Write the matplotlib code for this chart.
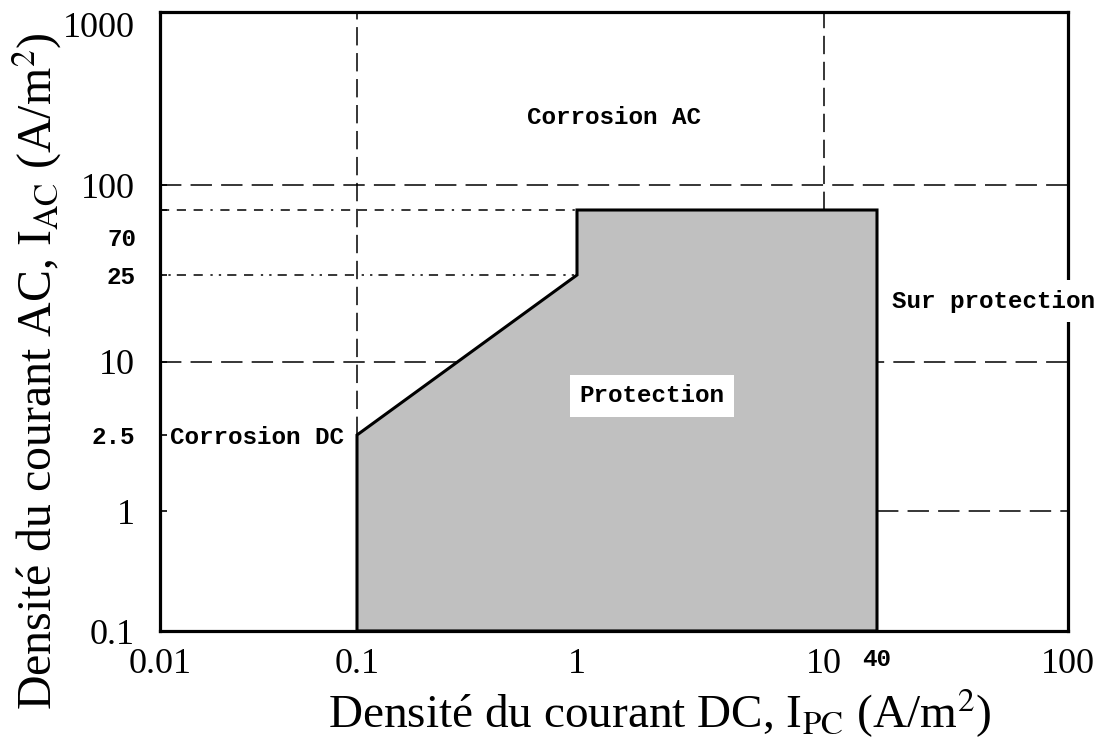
import numpy as np
import matplotlib
matplotlib.use("Agg")
import matplotlib.pyplot as plt

# ---------------- data ----------------
# contour of the protection zone (I_DC, I_AC in A/m2)
dc_edge = [0.1, 0.1, 1, 1, 40, 40]
ac_edge = [0.1, 2.5, 25, 70, 70, 0.1]

x_ticks = [0.01, 0.1, 1, 10, 40, 100]
x_tick_labels = ["0.01", "0.1", "1", "10", "40", "100"]
y_ticks = [0.1, 1, 2.5, 10, 25, 70, 100, 1000]
y_tick_labels = ["0.1", "1", "2.5", "10", "25", "", "100", "1000"]
bold_labels = ["2.5", "25", "40"]

# reference lines : (value, from, to)
h_dashed = [(100, 0.01, 100), (10, 0.01, 100), (1, 40, 100)]
v_dashed = [(0.1, 2.5, 1000), (10, 70, 1000)]
h_dashdot = [(70, 0.01, 1, (0, (6, 5, 6, 5, 6, 5, 1.5, 5))),
             (25, 0.01, 1, (0, (1.5, 4, 1.5, 4, 6, 5, 6, 5)))]

regions = [("Corrosion AC", 0.50, 0.83, False),
           ("Protection", 0.542, 0.38, True),
           ("Sur protection", 0.918, 0.533, True),
           ("Corrosion DC", 0.107, 0.313, False)]

# hand drawn diagram -> axis calibration (value -> pixel position)
x_calib_px = [160, 357, 577, 824, 877, 1068]
y_calib_px = [109, 229, 305, 378, 465, 530, 555, 728]


def calib_scale(vals, px):
    lv = np.log10(vals)
    px = np.asarray(px, float)

    def fwd(v):
        v = np.clip(np.asarray(v, float), 1e-12, None)
        return np.interp(np.log10(v), lv, px)

    def inv(p):
        return 10 ** np.interp(p, px, lv)
    return fwd, inv


plt.rcParams["font.family"] = ["Liberation Serif", "DejaVu Serif"]
plt.rcParams["mathtext.fontset"] = "stix"
mono = dict(family="Liberation Mono", weight="bold", size=17.5)

fig = plt.figure(figsize=(10.99, 7.40), dpi=100)
ax = fig.add_axes([160 / 1099, 109 / 740, 908 / 1099, 619 / 740])

ax.set_xscale("function", functions=calib_scale(x_ticks, x_calib_px))
ax.set_yscale("function", functions=calib_scale(y_ticks, y_calib_px))
ax.set_xlim(0.01, 100)
ax.set_ylim(0.1, 1000)

# grid / construction lines
for v, a, b in h_dashed:
    ax.plot([a, b], [v, v], color="black", lw=1.1, ls=(0, (14, 6)), zorder=1)
for v, a, b in v_dashed:
    ax.plot([v, v], [a, b], color="black", lw=1.1, ls=(0, (12, 5)), zorder=1)
for v, a, b, st in h_dashdot:
    ax.plot([a, b], [v, v], color="black", lw=1.1, ls=st, zorder=1)

# protection zone
ax.fill(dc_edge, ac_edge, facecolor="#c0c0c0", edgecolor="black",
        lw=2.2, zorder=2)

for txt, x, y, boxed in regions:
    kw = {}
    if boxed:
        kw["bbox"] = dict(facecolor="white", edgecolor="none", pad=7)
    ax.text(x, y, txt, transform=ax.transAxes, ha="center", va="center",
            zorder=6, clip_on=False, **mono, **kw)

# ticks
ax.set_xticks(x_ticks)
ax.set_xticklabels(x_tick_labels)
ax.set_yticks(y_ticks)
ax.set_yticklabels(y_tick_labels)
ax.xaxis.set_minor_locator(matplotlib.ticker.NullLocator())
ax.yaxis.set_minor_locator(matplotlib.ticker.NullLocator())
ax.tick_params(axis="both", direction="in", length=5, width=1.2,
               labelsize=26)
ax.tick_params(axis="y", pad=18)
ax.tick_params(axis="x", pad=12)
for lab in ax.get_xticklabels() + ax.get_yticklabels():
    if lab.get_text() in bold_labels:
        lab.set_fontfamily(mono["family"])
        lab.set_fontweight("bold")
        lab.set_fontsize(mono["size"])
    if lab.get_text() == "1000":
        lab.set_va("top")

# 70 label is drawn below its line in the original
ax.annotate("70", xy=(0, 70), xycoords=ax.get_yaxis_transform(),
            xytext=(-17, -21), textcoords="offset points",
            ha="right", va="center", **mono)

for sp in ax.spines.values():
    sp.set_linewidth(2.3)
    sp.set_zorder(4)

ax.set_xlabel(r"Densité du courant DC, I$_{\mathrm{PC}}$ (A/m$^2$)",
              fontsize=34)
ax.xaxis.set_label_coords(0.55, -0.09)
ax.set_ylabel(r"Densité du courant AC, I$_{\mathrm{AC}}$ (A/m$^2$)",
              fontsize=34.5)
ax.yaxis.set_label_coords(-0.106, 0.42)

fig.savefig("out.png", dpi=100)
